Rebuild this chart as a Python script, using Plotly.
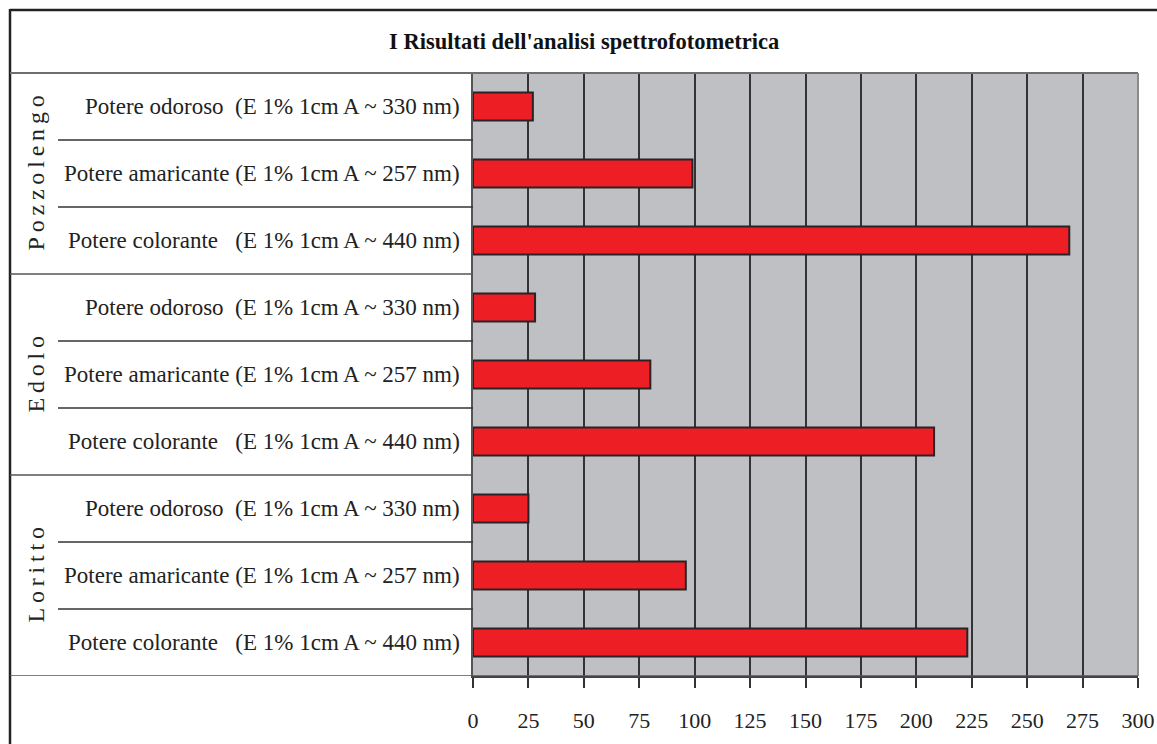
import plotly.graph_objects as go

groups = ["Pozzolengo", "Edolo", "Loritto"]
measures = [
    "Potere odoroso\u00a0\u00a0(E 1% 1cm A ~ 330 nm)",
    "Potere amaricante (E 1% 1cm A ~ 257 nm)",
    "Potere colorante\u00a0\u00a0\u00a0(E 1% 1cm A ~ 440 nm)",
]
values_pozzolengo = [27, 99, 269]
values_edolo = [28, 80, 208]
values_loritto = [25, 96, 223]
x_ticks = [0, 25, 50, 75, 100, 125, 150, 175, 200, 225, 250, 275, 300]
title_text = "I Risultati dell'analisi spettrofotometrica"

W, H = 1157, 744
L, R, T, B = 473, 1138, 73, 676
FONT = "'Liberation Serif', 'Times New Roman', Times, serif"


def px(p):
    return (p - L) / (R - L)


def py(p):
    return (B - p) / (B - T)


all_values = values_pozzolengo + values_edolo + values_loritto
all_labels = measures * 3
ypos = list(range(len(all_values)))

fig = go.Figure()
fig.add_trace(go.Bar(
    x=all_values, y=ypos, orientation="h",
    marker=dict(color="#ee1f24", line=dict(color="#2a2226", width=2)),
    width=0.42, hoverinfo="x",
))

shapes = []
# outer frame
shapes.append(dict(type="line", xref="paper", yref="paper", x0=px(10), x1=px(W + 5),
                   y0=py(10), y1=py(10), line=dict(color="#222", width=2.5)))
shapes.append(dict(type="line", xref="paper", yref="paper", x0=px(10), x1=px(10),
                   y0=py(9), y1=py(H + 5), line=dict(color="#222", width=2.5)))
# title separator & plot top border
shapes.append(dict(type="line", xref="paper", yref="paper", x0=px(10), x1=1,
                   y0=1, y1=1, line=dict(color="#6e6e6e", width=2)))
# plot right border
shapes.append(dict(type="line", xref="paper", yref="paper", x0=1, x1=1,
                   y0=0, y1=1, line=dict(color="#8a8a8a", width=2)))
# row separators
n = len(all_values)
for k in range(n):
    yb = k + 0.5
    is_group = (k + 1) % 3 == 0
    x0 = px(10) if is_group else px(58)
    x1 = 0 if k < n - 1 else 1
    shapes.append(dict(type="line", xref="paper", yref="y", x0=x0, x1=x1,
                       y0=yb, y1=yb, line=dict(color="#333" if not is_group else "#555", width=1.5)))

annotations = []
annotations.append(dict(text="<b>" + title_text + "</b>", xref="paper", yref="paper", x=px((10 + W) / 2),
                        y=py(42), showarrow=False, xanchor="center", yanchor="middle",
                        font=dict(family=FONT, size=22.5, color="#111"),
                        ))
for i, lab in enumerate(all_labels):
    annotations.append(dict(text=lab, xref="paper", yref="y", x=px(462), y=i,
                            showarrow=False, xanchor="right", yanchor="middle",
                            font=dict(family=FONT, size=23, color="#222")))
for g, name in enumerate(groups):
    spaced = "\u2009".join(name)
    annotations.append(dict(text=spaced, xref="paper", yref="y", x=px(35), y=g * 3 + 1,
                            showarrow=False, xanchor="center", yanchor="middle",
                            textangle=-90,
                            font=dict(family=FONT, size=24, color="#222")))

fig.update_layout(
    width=W, height=H,
    margin=dict(l=L, r=W - R, t=T, b=H - B, pad=0, autoexpand=False),
    paper_bgcolor="white", plot_bgcolor="#bfc0c4",
    showlegend=False,
    bargap=0.58,
    shapes=shapes, annotations=annotations,
    xaxis=dict(range=[0, 300], tickvals=x_ticks, ticktext=[str(v) for v in x_ticks],
               showgrid=True, gridcolor="#333333", gridwidth=1.5,
               ticks="outside", ticklen=10, tickwidth=1.5, tickcolor="#333",
               showline=True, linecolor="#444", linewidth=2,
               zeroline=False, ticklabelstandoff=14, automargin=False,
               tickfont=dict(family=FONT, size=22, color="#222"), fixedrange=True),
    yaxis=dict(range=[n - 0.5, -0.5], showticklabels=False, showgrid=False,
               zeroline=False, showline=True, linecolor="#555", linewidth=1.5,
               automargin=False, fixedrange=True),
)

fig.write_html("out.html")
